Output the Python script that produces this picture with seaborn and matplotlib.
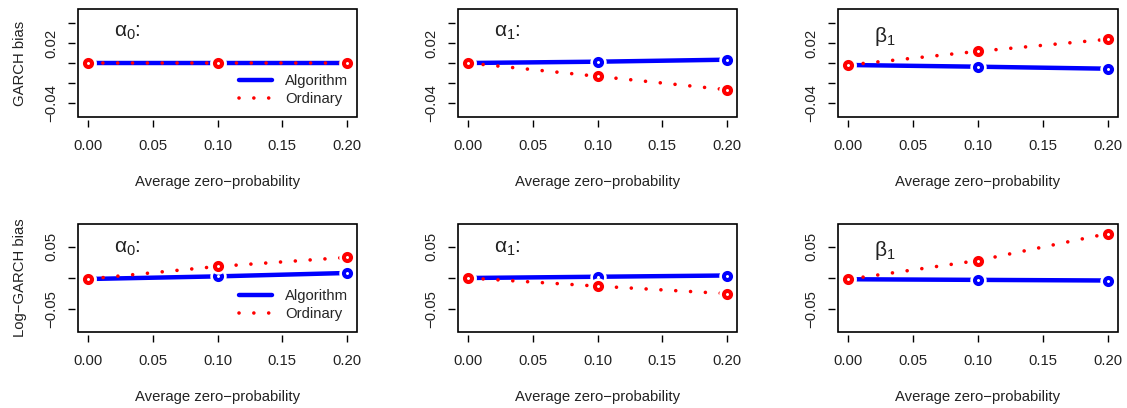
import numpy as np
import pandas as pd
import seaborn as sns
import matplotlib.pyplot as plt
from matplotlib.lines import Line2D
from matplotlib.patches import Rectangle

# average zero-probability
zero_prob = [0.00, 0.10, 0.20]

# GARCH bias (top row)
garch_alg_a0 = [0.0, 0.0, 0.0]
garch_ord_a0 = [0.0, 0.0, 0.0]
garch_alg_a1 = [0.0, 0.0013, 0.0033]
garch_ord_a1 = [0.0, -0.0133, -0.0267]
garch_alg_b1 = [-0.002, -0.0037, -0.0057]
garch_ord_b1 = [-0.002, 0.0117, 0.0237]

# Log-GARCH bias (bottom row)
lgarch_alg_a0 = [-0.0016, 0.0026, 0.008]
lgarch_ord_a0 = [-0.0016, 0.0185, 0.033]
lgarch_alg_a1 = [0.0, 0.002, 0.004]
lgarch_ord_a1 = [0.0, -0.013, -0.025]
lgarch_alg_b1 = [-0.002, -0.003, -0.004]
lgarch_ord_b1 = [-0.002, 0.028, 0.071]

param_labels = [r'$\alpha_0$:', r'$\alpha_1$:', r'$\beta_1$']
row_labels = ['GARCH bias', 'Log\u2212GARCH bias']

sns.set_theme(style="white")
plt.rcParams['font.family'] = ['Liberation Sans', 'DejaVu Sans']
plt.rcParams['mathtext.fontset'] = 'custom'
plt.rcParams['mathtext.rm'] = 'Liberation Sans'
plt.rcParams['mathtext.it'] = 'Liberation Sans'
plt.rcParams['axes.unicode_minus'] = True

FS = 10.7
W, H = 1127, 408
fig = plt.figure(figsize=(W / 100, H / 100), dpi=100)

lefts = [78, 458, 838]
widths = [279, 279, 280]
tops = [9, 224]
height = 108

rows = [
    [(garch_alg_a0, garch_ord_a0), (garch_alg_a1, garch_ord_a1), (garch_alg_b1, garch_ord_b1)],
    [(lgarch_alg_a0, lgarch_ord_a0), (lgarch_alg_a1, lgarch_ord_a1), (lgarch_alg_b1, lgarch_ord_b1)],
]
ylims = [(-0.054, 0.054), (-0.0864, 0.0864)]
yticks = [[-0.04, -0.02, 0.0, 0.02, 0.04], [-0.05, 0.0, 0.05]]
yticklabels = [['\u22120.04', '', '', '0.02', ''], ['\u22120.05', '', '0.05']]
text_y = [[0.03, 0.03, 0.027], [0.048, 0.048, 0.044]]

dotted = (0, (0.01, 4.1))

for r in range(2):
    for c in range(3):
        ax = fig.add_axes([lefts[c] / W, 1 - (tops[r] + height) / H, widths[c] / W, height / H])
        alg, ordy = rows[r][c]
        df = pd.DataFrame({'p': zero_prob, 'alg': alg, 'ord': ordy})

        # R type="b": lines broken around the points
        sns.lineplot(data=df, x='p', y='alg', ax=ax, color='blue', lw=3.2, zorder=2)
        sns.scatterplot(data=df, x='p', y='alg', ax=ax, color='white', s=140, linewidth=0, zorder=3)
        sns.scatterplot(data=df, x='p', y='alg', ax=ax, color='white', edgecolor='blue',
                        s=26, linewidth=2.9, zorder=4)
        sns.lineplot(data=df, x='p', y='ord', ax=ax, color='red', lw=2.6, zorder=5,
                     linestyle=dotted, dash_capstyle='round')
        sns.scatterplot(data=df, x='p', y='ord', ax=ax, color='white', s=140, linewidth=0, zorder=6)
        sns.scatterplot(data=df, x='p', y='ord', ax=ax, color='white', edgecolor='red',
                        s=26, linewidth=2.9, zorder=7)

        for side in ['top', 'right']:
            ax.spines[side].set_visible(False)
        for side in ['bottom', 'left']:
            ax.spines[side].set_color('none')
            ax.spines[side].set_position(('outward', 2))
        ax.add_patch(Rectangle((0, 0), 1, 1, transform=ax.transAxes, fill=False,
                               lw=1.2, ec='black', clip_on=False, zorder=10))

        ax.set_xlim(-0.008, 0.208)
        ax.set_ylim(*ylims[r])
        ax.set_xticks([0.0, 0.05, 0.10, 0.15, 0.20])
        ax.set_xticklabels(['0.00', '0.05', '0.10', '0.15', '0.20'])
        ax.set_yticks(yticks[r])
        ax.set_yticklabels(yticklabels[r])
        ax.tick_params(axis='both', direction='out', length=5, width=1, color='black',
                       labelsize=FS, labelcolor='#222222', bottom=True, left=True, pad=9)
        ax.tick_params(axis='y', labelrotation=90, pad=7)
        for lab in ax.get_yticklabels():
            lab.set_va('center')

        ax.set_xlabel('Average zero\u2212probability', fontsize=FS, labelpad=16, color='#222222')
        if c == 0:
            ax.set_ylabel(row_labels[r], fontsize=FS, labelpad=13, color='#222222')
        else:
            ax.set_ylabel('')

        ax.text(0.02, text_y[r][c], param_labels[c], fontsize=15, ha='left', va='center',
                color='#222222')

        if c == 0:
            handles = [Line2D([], [], color='blue', lw=3.2),
                       Line2D([], [], color='red', lw=2.6, linestyle=dotted, dash_capstyle='round')]
            ax.legend(handles, ['Algorithm', 'Ordinary'], loc='lower right', frameon=False,
                      fontsize=FS, handlelength=2.2, handletextpad=0.9, labelspacing=0.25,
                      borderaxespad=0.2, bbox_to_anchor=(1.0, 0.02))
        elif ax.get_legend() is not None:
            ax.get_legend().remove()

fig.savefig('out.png', dpi=100)
